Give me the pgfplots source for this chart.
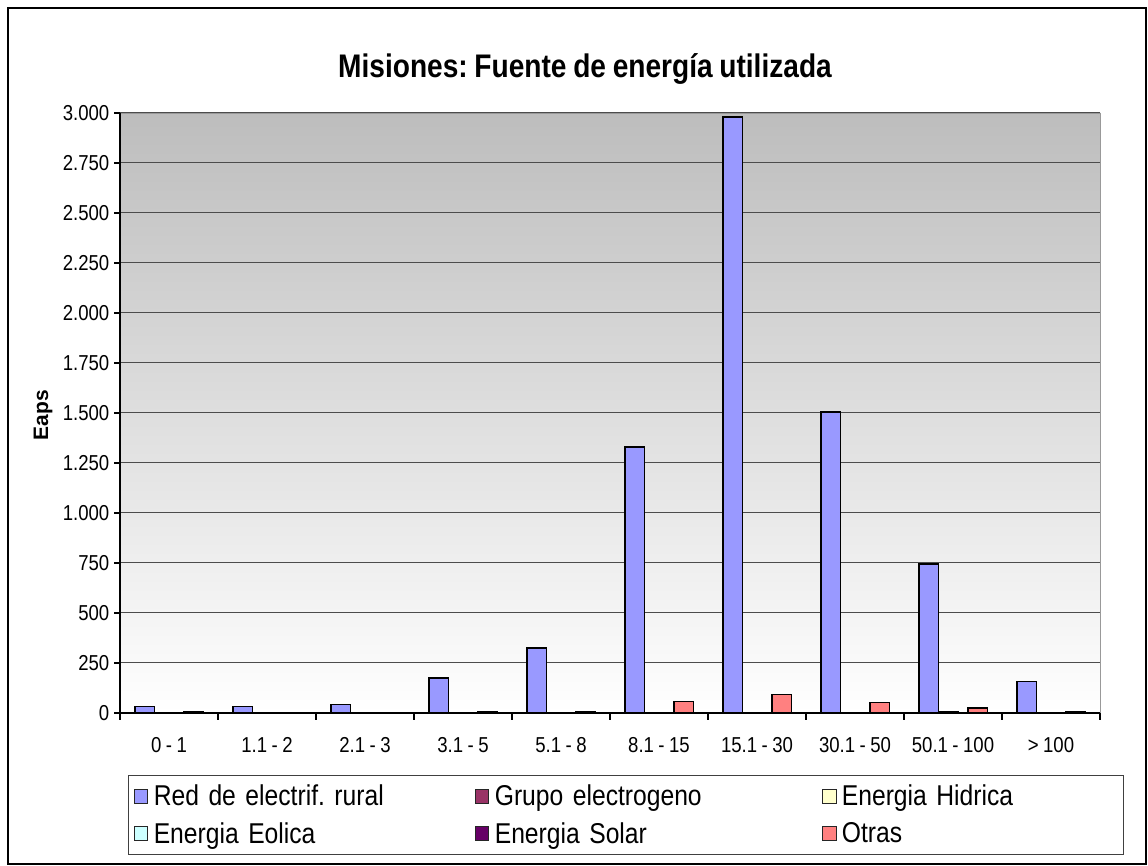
\documentclass[border=0pt]{standalone}
\usepackage{pgfplots}
\pgfplotsset{compat=1.18}
\usepackage{fontspec}
\setmainfont{Liberation Sans}[FakeStretch=0.86, WordSpace=0.86]
\newfontfamily\plainsans{Liberation Sans}
\definecolor{cRed}{HTML}{9999FF}
\definecolor{cGrupo}{HTML}{993366}
\definecolor{cHid}{HTML}{FFFFCC}
\definecolor{cEol}{HTML}{CCFFFF}
\definecolor{cSol}{HTML}{660066}
\definecolor{cOtr}{HTML}{FF8080}
\definecolor{cTop}{HTML}{BDBDBD}
\def\u{0.75pt}
\frenchspacing
\begin{document}
\begin{tikzpicture}
\path[use as bounding box] (0,0) rectangle (1148*\u,866*\u);
\draw[black,line width=1pt] (8*\u,2*\u) rectangle (1146*\u,858*\u);
\node[font=\fontsize{24.5}{28}\selectfont\bfseries, anchor=base] at (585*\u,788*\u) {Misiones: Fuente de energía utilizada};
\node[font=\fontsize{15.7}{18}\selectfont\plainsans\bfseries, rotate=90, anchor=center] at (43*\u,451*\u) {Eaps};
\begin{axis}[
  at={(120*\u,153*\u)}, anchor=south west,
  width=980*\u, height=600*\u, scale only axis,
  xmin=0, xmax=10, ymin=0, ymax=3000,
  axis x line*=bottom, axis y line*=left,
  axis line style={-,black,line width=0.8pt},
  axis background/.style={top color=cTop, bottom color=white, draw=gray!80},
  xtick={0.5,1.5,...,9.5},
  xticklabels={0 - 1,1.1 - 2,2.1 - 3,3.1 - 5,5.1 - 8,8.1 - 15,15.1 - 30,30.1 - 50,50.1 - 100,> 100},
  minor xtick={0,1,...,10},
  major x tick style={draw=none},
  ytick={0,250,...,3000},
  scaled y ticks=false,
  /pgf/number format/.cd, 1000 sep={.}, assume math mode=true, /pgfplots/.cd,
  tick align=outside,
  major tick length=4.5pt, minor tick length=5.25pt,
  tick style={black,line width=0.8pt},
  ymajorgrids, major grid style={black!70,line width=0.75pt},
  tick label style={font=\fontsize{16.2}{19}\selectfont},
  xticklabel style={yshift=-10pt},
  legend columns=3,
  legend cell align=left,
  legend image code/.code={\draw[#1,draw=black!85,line width=0.8pt] (0pt,-5.2pt) rectangle (10pt,5.2pt);},
  legend style={at={(0.0082,-0.1033)}, anchor=north west, draw=black!75, line width=1pt,
    font=\fontsize{21.5}{24}\selectfont, inner xsep=4pt, inner ysep=5pt, row sep=7pt,
    nodes={inner xsep=4pt},
    /tikz/column 2/.style={nodes={text width=237pt, align=left}},
    /tikz/column 4/.style={nodes={text width=241.5pt, align=left}},
    /tikz/column 6/.style={nodes={text width=203pt, align=left}}},
]
\addplot[ybar, bar width=0.2, bar shift=-0.25, fill=cRed, draw=black, line width=1.2pt, forget plot]
  coordinates {(0.5,33) (1.5,33) (2.5,43) (3.5,175) (4.5,325) (5.5,1330) (6.5,2980) (7.5,1505) (8.5,745) (9.5,157)};
\addplot[ybar, bar width=0.2, bar shift=-0.045, fill=cSol, draw=black, line width=1.2pt, forget plot]
  coordinates {(8.5,8)};
\addplot[ybar, bar width=0.2, bar shift=0.25, fill=cOtr, draw=black, line width=1.2pt, forget plot]
  coordinates {(0.5,8) (3.5,8) (4.5,8) (5.5,58) (6.5,93) (7.5,52) (8.5,25) (9.5,8)};
\addlegendimage{fill=cRed}
\addlegendimage{fill=cGrupo}
\addlegendimage{fill=cHid}
\addlegendimage{fill=cEol}
\addlegendimage{fill=cSol}
\addlegendimage{fill=cOtr}
\legend{Red de electrif.\ rural,Grupo electrogeno,Energia Hidrica,Energia Eolica,Energia Solar,Otras}
\end{axis}
\end{tikzpicture}
\end{document}
